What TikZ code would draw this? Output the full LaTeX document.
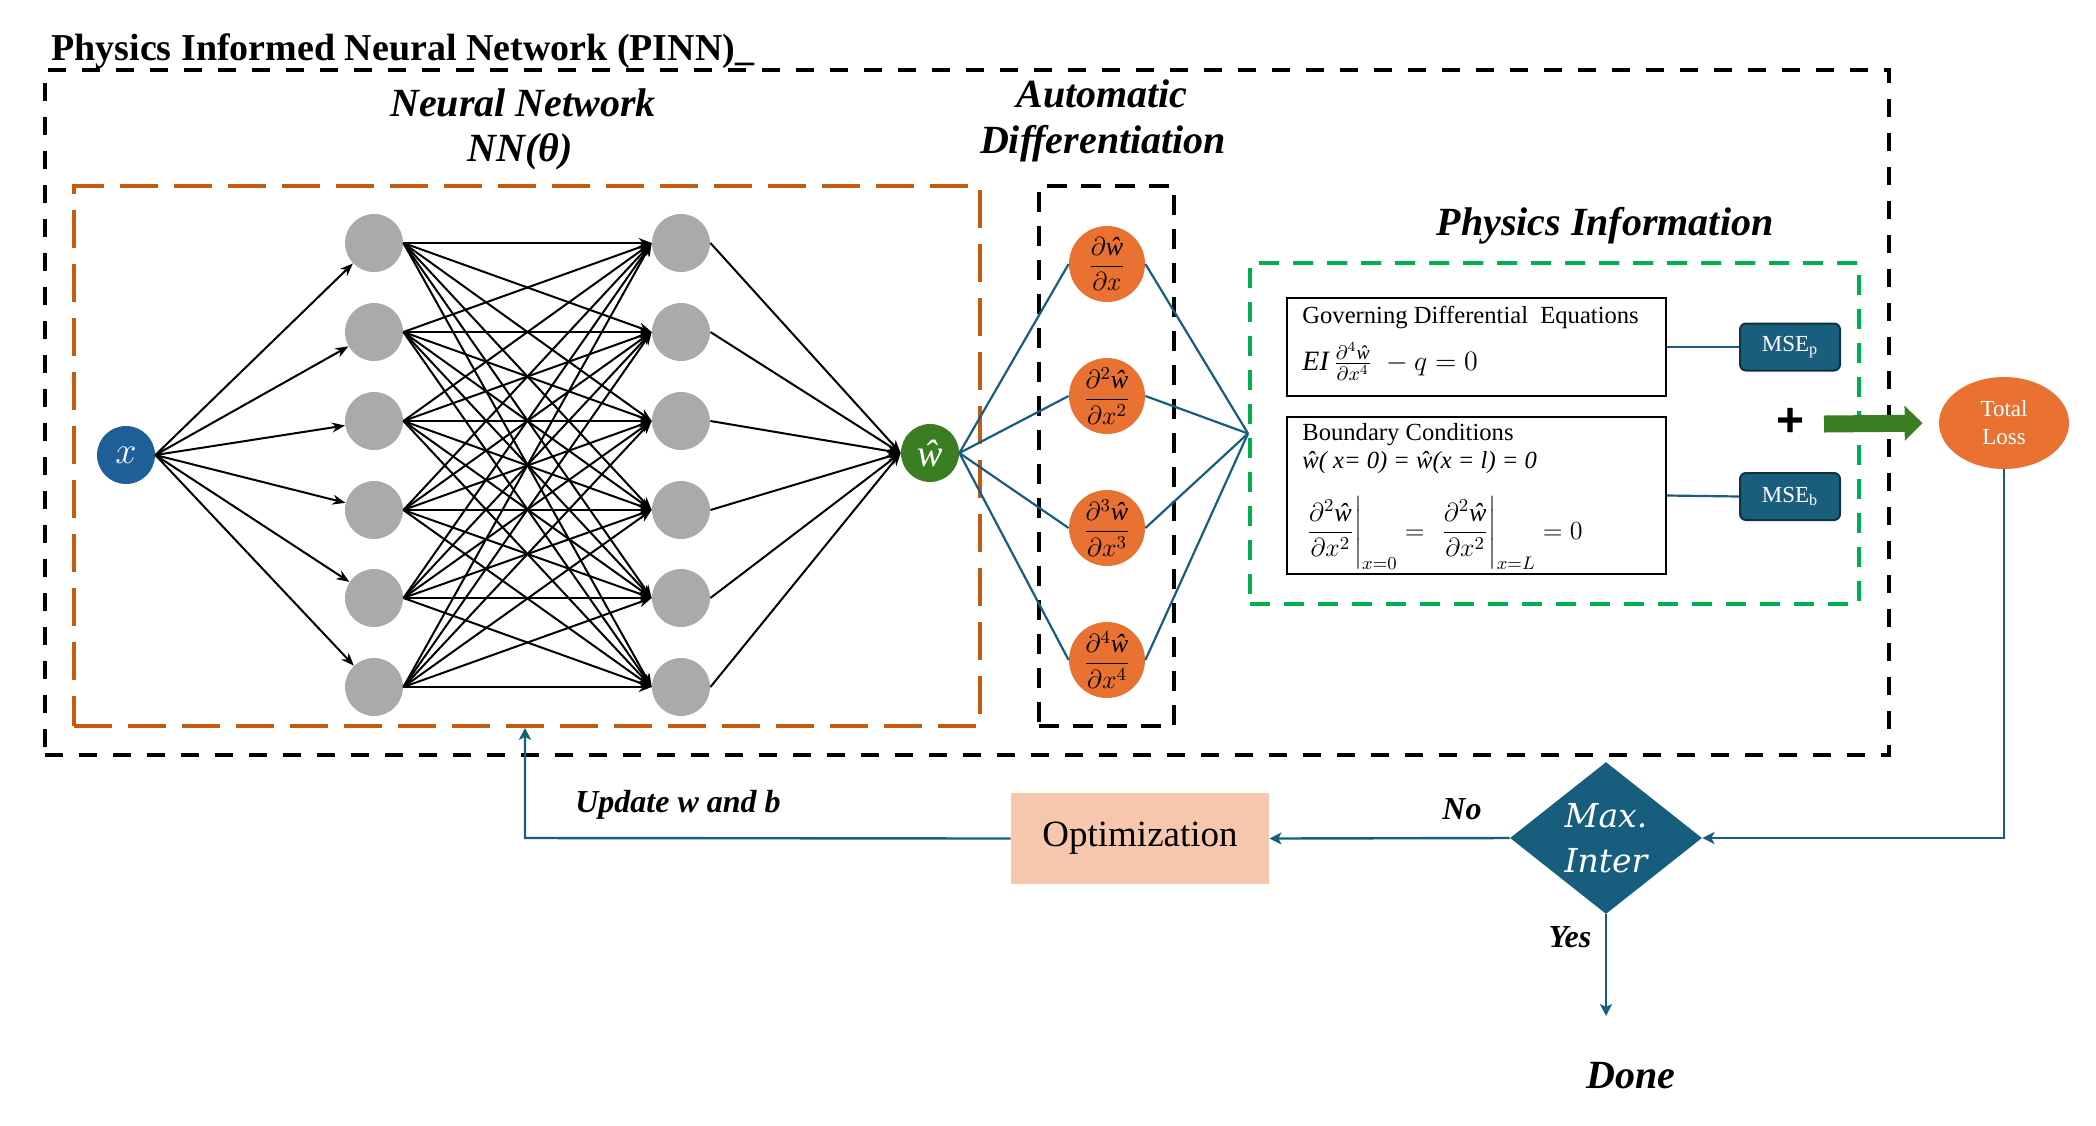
\RequirePackage{fix-cm}
\documentclass[tikz,border=0pt]{standalone}
\usepackage{amsmath}
\usepackage{fontspec}
\setmainfont{Liberation Serif}
\newfontfamily\djs{DejaVu Serif}
\newfontfamily\lsans{Liberation Sans}
\newcommand{\whx}{\text{\itshape ŵ}}
\usetikzlibrary{arrows.meta,shapes.geometric,calc}
\definecolor{nnblue}{RGB}{31,95,153}
\definecolor{nngreen}{RGB}{58,125,34}
\definecolor{nngray}{RGB}{170,170,170}
\definecolor{dorange}{RGB}{233,113,50}
\definecolor{boxorange}{RGB}{197,90,17}
\definecolor{boxgreen}{RGB}{0,176,80}
\definecolor{flowteal}{RGB}{23,94,126}
\definecolor{msefill}{RGB}{26,94,126}
\definecolor{mseborder}{RGB}{12,50,68}
\definecolor{optfill}{RGB}{246,198,173}
\begin{document}
\begin{tikzpicture}[x=0.5pt,y=-0.5pt,
  every node/.style={inner sep=0pt},
  neuron/.style={circle, fill=nngray, minimum size=29pt},
  ionode/.style={circle, minimum size=29pt, text=white, font=\fontsize{19}{19}\selectfont},
  deriv/.style={circle, fill=dorange, minimum size=38pt, font=\fontsize{13}{13}\selectfont},
  nnarrow/.style={line width=1pt, -{Stealth[length=6.5pt,width=5pt]}},
  blueline/.style={draw=flowteal, line width=1.1pt},
  flow/.style={draw=flowteal, line width=1.2pt, -{Stealth[length=6pt,width=6pt,inset=1.5pt]}},
  headbi/.style={font=\fontsize{20}{24}\selectfont\bfseries\itshape},
  lab/.style={font=\fontsize{16}{18}\selectfont\bfseries\itshape},
  eqtext/.style={font=\fontsize{12.3}{14}\selectfont},
  eqbox/.style={draw=black, line width=1pt, minimum width=189.5pt},
  mse/.style={rectangle, rounded corners=3pt, fill=msefill, draw=mseborder, line width=1pt,
    minimum width=50pt, minimum height=23.5pt, text=white, font=\fontsize{11.5}{11.5}\selectfont}]
\useasboundingbox (0,0) rectangle (2096,1125);

% title
\node[anchor=base west, font=\fontsize{19}{19}\selectfont\bfseries] (title) at (51,60) {Physics Informed Neural Network (PINN)\_};

% boxes
\node[draw=black, line width=2pt, dash pattern=on 9pt off 8pt, minimum width=922pt, minimum height=342.5pt] (outer) at (967,412.5) {};
\node[draw=boxorange, line width=1.8pt, dash pattern=on 19pt off 8pt, minimum width=453pt, minimum height=270pt] (nnbox) at (527,456) {};
\node[draw=black, line width=2pt, dash pattern=on 10pt off 7pt, minimum width=67.5pt, minimum height=270pt] (adbox) at (1106.5,456) {};
\node[draw=boxgreen, line width=2pt, dash pattern=on 10pt off 7pt, minimum width=304.5pt, minimum height=170.5pt] (pbox) at (1554.5,433.5) {};

% headings
\node[headbi, anchor=base] (nnt1) at (523,116) {Neural Network};
\node[headbi, anchor=base] (nnt2) at (520,161) {NN(θ)};
\node[headbi, anchor=base] (adt1) at (1102,107) {Automatic};
\node[headbi, anchor=base] (adt2) at (1103,153) {Differentiation};
\node[headbi, anchor=base] (pit) at (1605,235) {Physics Information};

% network
\node[ionode, fill=nnblue] (xin) at (126,455) {$x$};
\node[ionode, fill=nngreen] (what) at (930,453) {\itshape ŵ};
\foreach \i/\yy in {1/243,2/332,3/421,4/510,5/598,6/687}{
  \node[neuron] (a\i) at (374,\yy) {};
  \node[neuron] (b\i) at (681,\yy) {};
}
\foreach \i in {1,...,6}{
  \draw[nnarrow] (xin.east) -- (a\i);
  \draw[nnarrow] (b\i.east) -- (what.west);
  \foreach \j in {1,...,6}{
    \draw[nnarrow] (a\i.east) -- (b\j.west);
  }
}

% derivatives
\node[deriv] (d1) at (1107,264) {$\displaystyle\frac{\partial\whx}{\partial x}$};
\node[deriv] (d2) at (1107,396) {$\displaystyle\frac{\partial^2\whx}{\partial x^2}$};
\node[deriv] (d3) at (1107,528) {$\displaystyle\frac{\partial^3\whx}{\partial x^3}$};
\node[deriv] (d4) at (1107,660) {$\displaystyle\frac{\partial^4\whx}{\partial x^4}$};
\foreach \k in {1,...,4}{
  \draw[blueline] (what.east) -- (d\k.west);
  \draw[blueline] (d\k.east) -- (pbox.west);
}

% physics information
\node[eqbox, minimum height=49pt] (gde) at (1476.5,347) {};
\node[eqbox, minimum height=78.5pt] (bc) at (1476.5,495.5) {};
\node[eqtext, anchor=base west] (gdet) at (1302,323) {Governing Differential\ \ Equations};
\node[anchor=west, font=\fontsize{14}{16}\selectfont] (gdeq) at (1302,361) {$\mathit{EI}\,\tfrac{\partial^4\whx}{\partial x^4}\;-q=0$};
\node[eqtext, anchor=base west] (bct) at (1302,440) {Boundary Conditions};
\node[eqtext, anchor=base west, font=\fontsize{12.3}{14}\selectfont\itshape] (bc1) at (1302,468) {ŵ( x= 0) = ŵ(x = l) = 0};
\node[anchor=west, font=\fontsize{13}{15}\selectfont] (bc2) at (1304,533) {$\displaystyle \left.\frac{\partial^2\whx}{\partial x^2}\right|_{x=0} =\; \left.\frac{\partial^2\whx}{\partial x^2}\right|_{x=L} = 0$};

\node[mse] (msep) at (1790,347) {MSE\textsubscript{p}};
\node[mse] (mseb) at (1790,496.5) {MSE\textsubscript{b}};
\draw[blueline] (gde.east) -- (msep.west);
\draw[blueline] (bc.east) -- (mseb.west);

\node[font=\fontsize{24}{24}\selectfont\lsans\bfseries] (plus) at (1790,422) {+};

% total loss
\node[ellipse, fill=dorange, minimum width=65pt, minimum height=46pt, text=white, align=center,
  font=\fontsize{11.5}{14}\selectfont] (tl) at (2004,423) {Total\\Loss};
\coordinate (ga) at (1824,424);
\draw[draw=nngreen, line width=8.5pt, -{Triangle[length=9pt,width=17pt]}, shorten >=8pt] (ga) -- (tl.west);

% bottom flow
\node[diamond, fill=flowteal, minimum width=96pt, minimum height=76pt, aspect=1.26, text=white,
  align=center, font=\fontsize{16.5}{22.5}\selectfont\djs\itshape] (dm) at (1606,838) {Max.\\Inter};
\node[rectangle, fill=optfill, minimum width=129pt, minimum height=45.5pt,
  font=\fontsize{18.5}{18.5}\selectfont] (opt) at (1140,838.5) {Optimization};
\coordinate (tlc) at (2004,838);
\draw[flow] (tl.south) -- (tlc) -- (dm.east);
\draw[flow] (dm.west) -- (opt.east);
\coordinate (upc) at (525,838);
\draw[flow] (opt.west) -- (upc) -- (upc |- nnbox.south);
\coordinate (donec) at (1606,1016);
\draw[flow] (dm.south) -- (donec);

\node[lab, anchor=base] (upd) at (678,812) {Update w and b};
\node[lab, anchor=base] (nolab) at (1462,819) {No};
\node[lab, anchor=base] (yeslab) at (1570,947) {Yes};
\node[headbi, anchor=base] (done) at (1631,1088) {Done};
\end{tikzpicture}
\end{document}
